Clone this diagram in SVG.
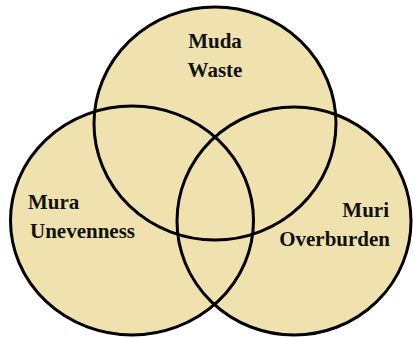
<svg xmlns="http://www.w3.org/2000/svg" width="413" height="338" viewBox="0 0 413 338">
<style>
.fill{fill:#EFE2AF;stroke:none}
.ring{fill:none;stroke:#000;stroke-width:3}
.lbl{font-family:"Liberation Serif","Times New Roman",serif;font-weight:bold;font-size:21px;fill:#111}
</style>
<rect width="413" height="338" fill="#fff"/>
<g id="fills">
<ellipse class="fill" cx="215" cy="123.5" rx="121" ry="116.5"/>
<ellipse class="fill" cx="132" cy="220.5" rx="121.5" ry="114.5"/>
<ellipse class="fill" cx="294" cy="221" rx="117" ry="114"/>
</g>
<g id="muda">
<ellipse class="ring" cx="215" cy="123.5" rx="121" ry="116.5"/>
<text class="lbl" x="215" y="48" text-anchor="middle">Muda</text>
<text class="lbl" x="215" y="77" text-anchor="middle">Waste</text>
</g>
<g id="mura">
<ellipse class="ring" cx="132" cy="220.5" rx="121.5" ry="114.5"/>
<text class="lbl" x="28" y="209">Mura</text>
<text class="lbl" x="30" y="238">Unevenness</text>
</g>
<g id="muri">
<ellipse class="ring" cx="294" cy="221" rx="117" ry="114"/>
<text class="lbl" x="389" y="217" text-anchor="end">Muri</text>
<text class="lbl" x="390" y="246" text-anchor="end">Overburden</text>
</g>
<g id="connectors"/>
</svg>
